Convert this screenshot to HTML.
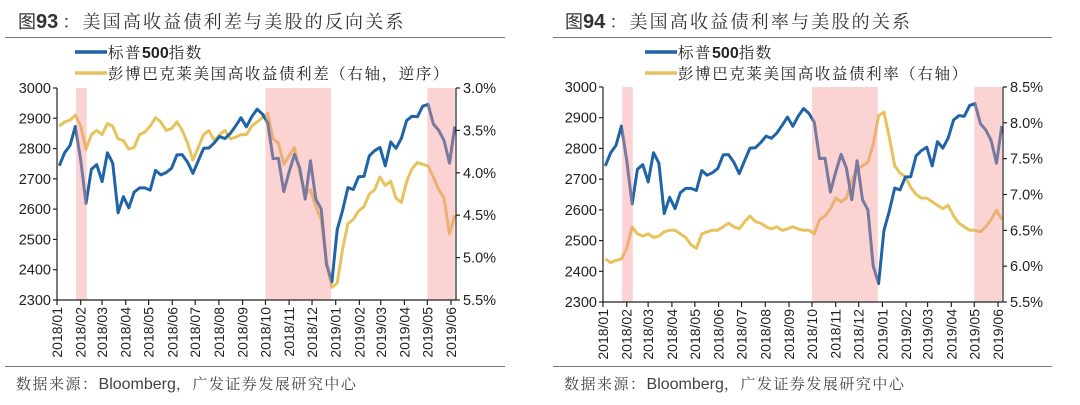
<!DOCTYPE html>
<html><head><meta charset="utf-8">
<style>
body{margin:0;background:#fff;width:1080px;height:405px;overflow:hidden;font-family:"Liberation Sans","Noto Sans CJK SC",sans-serif;}
svg{position:absolute;left:0;top:0}
.serif{font-family:"Liberation Serif","Noto Serif CJK SC",serif}
</style></head>
<body>
<svg id="c" width="1080" height="405" xmlns="http://www.w3.org/2000/svg"></svg>
<script>
const spx = [2743,2786,2810,2873,2762,2619,2732,2747,2691,2786,2752,2588,2641,2604,2656,2670,2670,2663,2728,2713,2721,2735,2779,2780,2755,2718,2760,2801,2802,2819,2840,2833,2850,2875,2902,2872,2905,2930,2914,2885,2767,2768,2658,2723,2781,2736,2633,2760,2633,2600,2417,2360,2532,2596,2671,2665,2707,2708,2776,2793,2804,2743,2822,2801,2834,2893,2907,2905,2940,2946,2881,2860,2826,2752,2873];
const spread = [3.45,3.40,3.38,3.32,3.45,3.72,3.55,3.50,3.55,3.42,3.45,3.60,3.62,3.72,3.70,3.55,3.52,3.45,3.35,3.40,3.50,3.48,3.40,3.50,3.65,3.85,3.70,3.55,3.50,3.62,3.55,3.50,3.60,3.58,3.55,3.55,3.45,3.40,3.35,3.30,3.60,3.65,3.90,3.80,3.70,4.00,4.25,4.20,4.40,4.55,5.05,5.35,5.30,4.90,4.60,4.55,4.45,4.40,4.25,4.20,4.05,4.15,4.10,4.30,4.35,4.10,3.95,3.88,3.90,3.92,4.05,4.20,4.30,4.72,4.50];
const hyYield = [6.10,6.05,6.08,6.10,6.25,6.55,6.45,6.42,6.45,6.40,6.42,6.48,6.50,6.50,6.45,6.40,6.30,6.25,6.45,6.48,6.50,6.50,6.55,6.60,6.55,6.52,6.62,6.70,6.62,6.60,6.55,6.52,6.55,6.50,6.52,6.55,6.52,6.50,6.50,6.45,6.65,6.70,6.80,6.95,6.90,6.95,7.20,7.35,7.40,7.45,7.70,8.10,8.15,7.80,7.40,7.30,7.25,7.10,7.00,6.95,6.95,6.90,6.85,6.80,6.85,6.70,6.60,6.55,6.50,6.50,6.48,6.55,6.65,6.78,6.65];
const monthLabels = ["2018/01","2018/02","2018/03","2018/04","2018/05","2018/06","2018/07","2018/08","2018/09","2018/10","2018/11","2018/12","2019/01","2019/02","2019/03","2019/04","2019/05","2019/06"];
const leftTicks = [2300,2400,2500,2600,2700,2800,2900,3000];
const spreadTicks = [3.0,3.5,4.0,4.5,5.0,5.5];
const yieldTicks = [5.5,6.0,6.5,7.0,7.5,8.0,8.5];
const shadeRanges = [["2018-01-26","2018-02-09"],["2018-10-01","2018-12-26"],["2019-05-01","2019-06-06"]];

const NS="http://www.w3.org/2000/svg";
const svg=document.getElementById('c');
function mk(tag,attrs,parent){const e=document.createElementNS(NS,tag);for(const k in attrs)e.setAttribute(k,attrs[k]);(parent||svg).appendChild(e);return e;}
const DAY=86400000;
const t0=Date.UTC(2018,0,1);
function dayOf(s){const p=s.split(/[-\/]/);return (Date.UTC(+p[0],+p[1]-1,p[2]?+p[2]:1)-t0)/DAY;}
const pointDays=spx.map((_,i)=>3+7*i);

function drawChart(o){
  const g=mk('g',{},svg);
  
  
  const span=dayOf("2019/06")-dayOf("2018/01");
  const X=d=>o.x0+(d/span)*(o.x1-o.x0);
  const YL=v=>o.yB-(v-2300)/700*(o.yB-o.yT);
  const YR=v=>o.rev? o.yT+(v-o.rMin)/(o.rMax-o.rMin)*(o.yB-o.yT) : o.yB-(v-o.rMin)/(o.rMax-o.rMin)*(o.yB-o.yT);
  const t=mk('text',{x:o.tx,y:28,'font-size':18,fill:'#333'},g);
  
  const a0=mk('tspan',{},t);a0.textContent='图';
  const b=mk('tspan',{'font-weight':'bold','font-size':20},t);b.textContent=o.fig;
  const r=mk('tspan',{class:'serif','letter-spacing':2.2,dx:4},t);r.textContent='：'+o.title;
  const hr=mk('line',{x1:o.hx0,x2:o.hx1,y1:37.5,y2:37.5,stroke:'#777','stroke-width':1},g);
  
  const hr2=mk('line',{x1:o.hx0,x2:o.hx1,y1:366.5,y2:366.5,stroke:'#777','stroke-width':1},g);
  
  const src=mk('text',{x:o.hx0+11,y:389,'font-size':15,fill:'#444'},g);
  
  const s1=mk('tspan',{class:'serif','letter-spacing':1.5},src);s1.textContent='数据来源：';
  const s2=mk('tspan',{'font-size':16},src);s2.textContent='Bloomberg';
  const s3=mk('tspan',{class:'serif','letter-spacing':1.5},src);s3.textContent='，广发证券发展研究中心';
  const lg=[[o.lx,58,'#1f64a6',true],[o.lx,79,'#e6c35c',false]];
  lg.forEach((l,i)=>{
    const e=mk('g',{},g);
    
    mk('line',{x1:l[0],x2:l[0]+32,y1:l[1]-6,y2:l[1]-6,stroke:l[2],'stroke-width':3.5},e);
    const tx=mk('text',{x:l[0]+33,y:l[1],'font-size':15.5,fill:'#222'},e);
    if(l[3]){
      const p1=mk('tspan',{class:'serif','letter-spacing':1.5},tx);p1.textContent='标普';
      const p2=mk('tspan',{'font-weight':'bold','font-size':16},tx);p2.textContent='500';
      const p3=mk('tspan',{class:'serif','letter-spacing':1.5},tx);p3.textContent='指数';
    } else {
      const p1=mk('tspan',{class:'serif','letter-spacing':1.6},tx);p1.textContent=o.legend2;
    }
  });
  const line=(vals,Y,col,name)=>{
    const p=mk('polyline',{points:vals.map((v,i)=>X(pointDays[i]).toFixed(1)+','+Y(v).toFixed(1)).join(' '),fill:'none',stroke:col,'stroke-width':3,'stroke-linejoin':'round'},g);
    
  };
  line(o.rv,YR,'#e6c35c',o.rName);
  line(spx,YL,'#1f64a6','spx-line');
  shadeRanges.forEach((s,i)=>{
    const a=X(dayOf(s[0])),bb=X(dayOf(s[1]));
    const rc=mk('rect',{x:a,y:o.yT,width:bb-a,height:o.yB-o.yT,fill:'rgba(246,150,150,0.42)'},g);
    
  });
  const ax=mk('g',{stroke:'#222','stroke-width':1.2},g);
  
  mk('line',{x1:o.x0,x2:o.x0,y1:o.yT,y2:o.yB},ax);
  mk('line',{x1:o.x1+5,x2:o.x1+5,y1:o.yT,y2:o.yB},ax);
  mk('line',{x1:o.x0,x2:o.x1+5,y1:o.yB,y2:o.yB},ax);
  leftTicks.forEach(v=>{
    mk('line',{x1:o.x0-4,x2:o.x0,y1:YL(v),y2:YL(v)},ax);
    const tt=mk('text',{x:o.x0-6,y:YL(v)+5,'font-size':14.5,fill:'#222','text-anchor':'end'},g);
    
    tt.textContent=v;
  });
  o.rTicks.forEach(v=>{
    mk('line',{x1:o.x1+5,x2:o.x1+9,y1:YR(v),y2:YR(v)},ax);
    const tt=mk('text',{x:o.x1+12,y:YR(v)+5,'font-size':14.5,fill:'#222'},g);
    
    tt.textContent=v.toFixed(1)+'%';
  });
  monthLabels.forEach(m=>{
    const x=X(dayOf(m));
    mk('line',{x1:x,x2:x,y1:o.yB,y2:o.yB+5},ax);
    const tt=mk('text',{x:0,y:0,'font-size':14,fill:'#222','text-anchor':'end',transform:`translate(${x+5},${o.yB+7}) rotate(-90)`},g);
    
    tt.textContent=m;
  });
}
drawChart({name:'chart-spread',fig:'93',title:'美国高收益债利差与美股的反向关系',tx:18,hx0:5,hx1:505,lx:75,legend2:'彭博巴克莱美国高收益债利差（右轴，逆序）',
  x0:57,x1:451,yT:88,yB:300,rv:spread,rMin:3.0,rMax:5.5,rev:true,rTicks:spreadTicks,rName:'hy-spread-line'});
drawChart({name:'chart-yield',fig:'94',title:'美国高收益债利率与美股的关系',tx:565,hx0:553,hx1:1052,lx:645,legend2:'彭博巴克莱美国高收益债利率（右轴）',
  x0:603,x1:998,yT:87,yB:302,rv:hyYield,rMin:5.5,rMax:8.5,rev:false,rTicks:yieldTicks,rName:'hy-yield-line'});
</script>
</body></html>
